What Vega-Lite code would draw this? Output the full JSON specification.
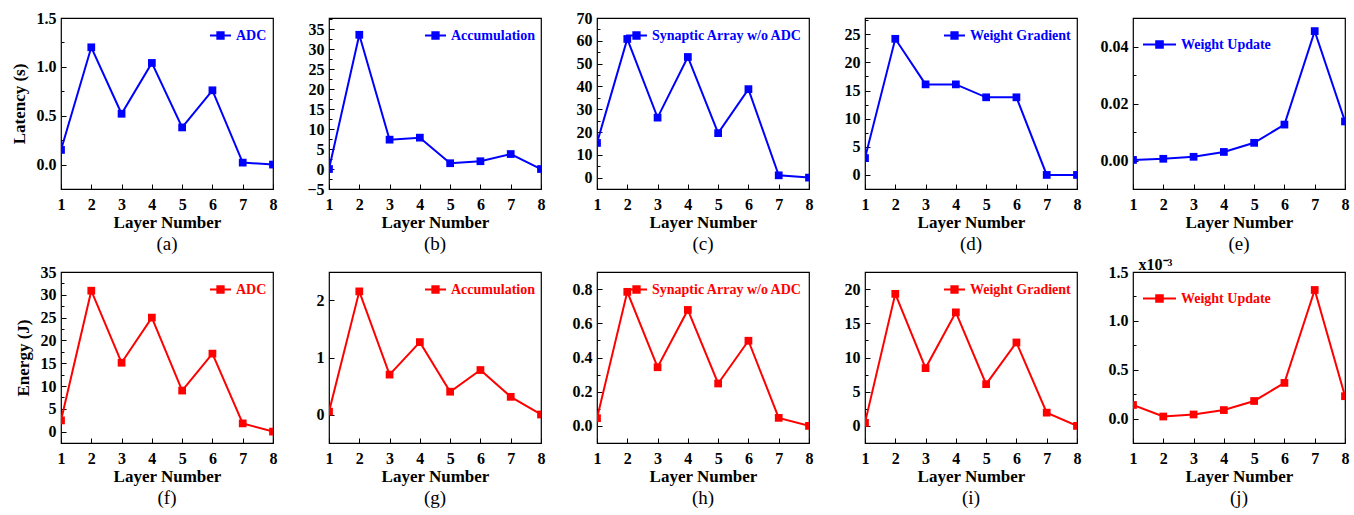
{
  "$schema": "https://vega.github.io/schema/vega-lite/v6.json",
  "background": "white",
  "padding": {"left": 9, "top": 9, "right": 0, "bottom": 0},
  "data": {"values": [
    {"panel": "a", "metric": "Latency", "component": "ADC", "layer": 1, "value": 0.15},
    {"panel": "a", "metric": "Latency", "component": "ADC", "layer": 2, "value": 1.2},
    {"panel": "a", "metric": "Latency", "component": "ADC", "layer": 3, "value": 0.52},
    {"panel": "a", "metric": "Latency", "component": "ADC", "layer": 4, "value": 1.04},
    {"panel": "a", "metric": "Latency", "component": "ADC", "layer": 5, "value": 0.38},
    {"panel": "a", "metric": "Latency", "component": "ADC", "layer": 6, "value": 0.76},
    {"panel": "a", "metric": "Latency", "component": "ADC", "layer": 7, "value": 0.02},
    {"panel": "a", "metric": "Latency", "component": "ADC", "layer": 8, "value": 0.0},
    {"panel": "b", "metric": "Latency", "component": "Accumulation", "layer": 1, "value": 0.0},
    {"panel": "b", "metric": "Latency", "component": "Accumulation", "layer": 2, "value": 33.6},
    {"panel": "b", "metric": "Latency", "component": "Accumulation", "layer": 3, "value": 7.35},
    {"panel": "b", "metric": "Latency", "component": "Accumulation", "layer": 4, "value": 7.85},
    {"panel": "b", "metric": "Latency", "component": "Accumulation", "layer": 5, "value": 1.45},
    {"panel": "b", "metric": "Latency", "component": "Accumulation", "layer": 6, "value": 1.95},
    {"panel": "b", "metric": "Latency", "component": "Accumulation", "layer": 7, "value": 3.75},
    {"panel": "b", "metric": "Latency", "component": "Accumulation", "layer": 8, "value": 0.0},
    {"panel": "c", "metric": "Latency", "component": "Synaptic Array w/o ADC", "layer": 1, "value": 15.2},
    {"panel": "c", "metric": "Latency", "component": "Synaptic Array w/o ADC", "layer": 2, "value": 60.8},
    {"panel": "c", "metric": "Latency", "component": "Synaptic Array w/o ADC", "layer": 3, "value": 26.3},
    {"panel": "c", "metric": "Latency", "component": "Synaptic Array w/o ADC", "layer": 4, "value": 52.9},
    {"panel": "c", "metric": "Latency", "component": "Synaptic Array w/o ADC", "layer": 5, "value": 19.5},
    {"panel": "c", "metric": "Latency", "component": "Synaptic Array w/o ADC", "layer": 6, "value": 38.8},
    {"panel": "c", "metric": "Latency", "component": "Synaptic Array w/o ADC", "layer": 7, "value": 1.0},
    {"panel": "c", "metric": "Latency", "component": "Synaptic Array w/o ADC", "layer": 8, "value": 0.0},
    {"panel": "d", "metric": "Latency", "component": "Weight Gradient", "layer": 1, "value": 3.0},
    {"panel": "d", "metric": "Latency", "component": "Weight Gradient", "layer": 2, "value": 24.2},
    {"panel": "d", "metric": "Latency", "component": "Weight Gradient", "layer": 3, "value": 16.1},
    {"panel": "d", "metric": "Latency", "component": "Weight Gradient", "layer": 4, "value": 16.1},
    {"panel": "d", "metric": "Latency", "component": "Weight Gradient", "layer": 5, "value": 13.8},
    {"panel": "d", "metric": "Latency", "component": "Weight Gradient", "layer": 6, "value": 13.8},
    {"panel": "d", "metric": "Latency", "component": "Weight Gradient", "layer": 7, "value": 0.0},
    {"panel": "d", "metric": "Latency", "component": "Weight Gradient", "layer": 8, "value": 0.0},
    {"panel": "e", "metric": "Latency", "component": "Weight Update", "layer": 1, "value": 0.0002},
    {"panel": "e", "metric": "Latency", "component": "Weight Update", "layer": 2, "value": 0.0006},
    {"panel": "e", "metric": "Latency", "component": "Weight Update", "layer": 3, "value": 0.0013},
    {"panel": "e", "metric": "Latency", "component": "Weight Update", "layer": 4, "value": 0.003},
    {"panel": "e", "metric": "Latency", "component": "Weight Update", "layer": 5, "value": 0.0062},
    {"panel": "e", "metric": "Latency", "component": "Weight Update", "layer": 6, "value": 0.0126},
    {"panel": "e", "metric": "Latency", "component": "Weight Update", "layer": 7, "value": 0.0454},
    {"panel": "e", "metric": "Latency", "component": "Weight Update", "layer": 8, "value": 0.0137},
    {"panel": "f", "metric": "Energy", "component": "ADC", "layer": 1, "value": 2.45},
    {"panel": "f", "metric": "Energy", "component": "ADC", "layer": 2, "value": 30.9},
    {"panel": "f", "metric": "Energy", "component": "ADC", "layer": 3, "value": 15.1},
    {"panel": "f", "metric": "Energy", "component": "ADC", "layer": 4, "value": 25.0},
    {"panel": "f", "metric": "Energy", "component": "ADC", "layer": 5, "value": 9.0},
    {"panel": "f", "metric": "Energy", "component": "ADC", "layer": 6, "value": 17.1},
    {"panel": "f", "metric": "Energy", "component": "ADC", "layer": 7, "value": 1.8},
    {"panel": "f", "metric": "Energy", "component": "ADC", "layer": 8, "value": 0.0},
    {"panel": "g", "metric": "Energy", "component": "Accumulation", "layer": 1, "value": 0.05},
    {"panel": "g", "metric": "Energy", "component": "Accumulation", "layer": 2, "value": 2.16},
    {"panel": "g", "metric": "Energy", "component": "Accumulation", "layer": 3, "value": 0.7},
    {"panel": "g", "metric": "Energy", "component": "Accumulation", "layer": 4, "value": 1.27},
    {"panel": "g", "metric": "Energy", "component": "Accumulation", "layer": 5, "value": 0.4},
    {"panel": "g", "metric": "Energy", "component": "Accumulation", "layer": 6, "value": 0.78},
    {"panel": "g", "metric": "Energy", "component": "Accumulation", "layer": 7, "value": 0.31},
    {"panel": "g", "metric": "Energy", "component": "Accumulation", "layer": 8, "value": 0.0},
    {"panel": "h", "metric": "Energy", "component": "Synaptic Array w/o ADC", "layer": 1, "value": 0.045},
    {"panel": "h", "metric": "Energy", "component": "Synaptic Array w/o ADC", "layer": 2, "value": 0.784},
    {"panel": "h", "metric": "Energy", "component": "Synaptic Array w/o ADC", "layer": 3, "value": 0.343},
    {"panel": "h", "metric": "Energy", "component": "Synaptic Array w/o ADC", "layer": 4, "value": 0.678},
    {"panel": "h", "metric": "Energy", "component": "Synaptic Array w/o ADC", "layer": 5, "value": 0.248},
    {"panel": "h", "metric": "Energy", "component": "Synaptic Array w/o ADC", "layer": 6, "value": 0.498},
    {"panel": "h", "metric": "Energy", "component": "Synaptic Array w/o ADC", "layer": 7, "value": 0.047},
    {"panel": "h", "metric": "Energy", "component": "Synaptic Array w/o ADC", "layer": 8, "value": 0.0},
    {"panel": "i", "metric": "Energy", "component": "Weight Gradient", "layer": 1, "value": 0.44},
    {"panel": "i", "metric": "Energy", "component": "Weight Gradient", "layer": 2, "value": 19.3},
    {"panel": "i", "metric": "Energy", "component": "Weight Gradient", "layer": 3, "value": 8.45},
    {"panel": "i", "metric": "Energy", "component": "Weight Gradient", "layer": 4, "value": 16.6},
    {"panel": "i", "metric": "Energy", "component": "Weight Gradient", "layer": 5, "value": 6.1},
    {"panel": "i", "metric": "Energy", "component": "Weight Gradient", "layer": 6, "value": 12.2},
    {"panel": "i", "metric": "Energy", "component": "Weight Gradient", "layer": 7, "value": 1.94},
    {"panel": "i", "metric": "Energy", "component": "Weight Gradient", "layer": 8, "value": 0.0},
    {"panel": "j", "metric": "Energy", "component": "Weight Update", "layer": 1, "value": 0.139},
    {"panel": "j", "metric": "Energy", "component": "Weight Update", "layer": 2, "value": 0.021},
    {"panel": "j", "metric": "Energy", "component": "Weight Update", "layer": 3, "value": 0.042},
    {"panel": "j", "metric": "Energy", "component": "Weight Update", "layer": 4, "value": 0.087},
    {"panel": "j", "metric": "Energy", "component": "Weight Update", "layer": 5, "value": 0.18},
    {"panel": "j", "metric": "Energy", "component": "Weight Update", "layer": 6, "value": 0.365},
    {"panel": "j", "metric": "Energy", "component": "Weight Update", "layer": 7, "value": 1.316},
    {"panel": "j", "metric": "Energy", "component": "Weight Update", "layer": 8, "value": 0.229}
  ]},
  "columns": 5,
  "spacing": {"row": 83, "column": 56},
  "bounds": "flush",
  "align": "all",
  "resolve": {"scale": {"x": "independent", "y": "independent", "color": "independent"}, "legend": {"color": "independent"}},
  "concat": [
    {
      "width": 212, "height": 171, "title": "(a)",
      "transform": [{"filter": "datum.panel === 'a'"}],
      "mark": {"type": "line", "clip": true, "strokeWidth": 2, "color": "#0000ff", "point": {"shape": "square", "filled": true, "size": 60, "clip": true}},
      "encoding": {
        "x": {"field": "layer", "type": "quantitative", "scale": {"domain": [1, 8], "nice": false, "zero": false},
              "axis": {"title": "Layer Number", "format": "d", "values": [1, 1.5, 2, 2.5, 3, 3.5, 4, 4.5, 5, 5.5, 6, 6.5, 7, 7.5, 8], "labelExpr": "datum.value % 1 === 0 ? datum.label : ''", "tickSize": {"condition": {"test": "datum.value % 1 === 0", "value": -5}, "value": -3}}},
        "y": {"field": "value", "type": "quantitative", "scale": {"domain": [-0.25, 1.5], "nice": false, "zero": false},
              "axis": {"title": "Latency (s)", "format": ".1f", "values": [0, 0.25, 0.5, 0.75, 1, 1.25, 1.5], "labelExpr": "abs(datum.value/0.5 - round(datum.value/0.5)) < 1e-6 ? datum.label : ''", "tickSize": {"condition": {"test": "abs(datum.value/0.5 - round(datum.value/0.5)) < 1e-6", "value": -5}, "value": -3}}},
        "color": {"field": "component", "type": "nominal", "scale": {"range": ["#0000ff"]},
                  "legend": {"title": null, "orient": "top-right", "symbolType": "M-1,0H1M-0.3,-0.3H0.3V0.3H-0.3Z", "symbolSize": 441, "labelColor": "#0000ff", "encode": {"symbols": {"update": {"fill": {"value": "#0000ff"}, "stroke": {"value": "#0000ff"}}}}}}
      }
    },
    {
      "width": 212, "height": 171, "title": "(b)",
      "transform": [{"filter": "datum.panel === 'b'"}],
      "mark": {"type": "line", "clip": true, "strokeWidth": 2, "color": "#0000ff", "point": {"shape": "square", "filled": true, "size": 60, "clip": true}},
      "encoding": {
        "x": {"field": "layer", "type": "quantitative", "scale": {"domain": [1, 8], "nice": false, "zero": false},
              "axis": {"title": "Layer Number", "format": "d", "values": [1, 1.5, 2, 2.5, 3, 3.5, 4, 4.5, 5, 5.5, 6, 6.5, 7, 7.5, 8], "labelExpr": "datum.value % 1 === 0 ? datum.label : ''", "tickSize": {"condition": {"test": "datum.value % 1 === 0", "value": -5}, "value": -3}}},
        "y": {"field": "value", "type": "quantitative", "scale": {"domain": [-5, 37.8], "nice": false, "zero": false},
              "axis": {"title": null, "format": "d", "values": [-5, -2.5, 0, 2.5, 5, 7.5, 10, 12.5, 15, 17.5, 20, 22.5, 25, 27.5, 30, 32.5, 35, 37.5], "labelExpr": "datum.value % 5 === 0 ? datum.label : ''", "tickSize": {"condition": {"test": "datum.value % 5 === 0", "value": -5}, "value": -3}}},
        "color": {"field": "component", "type": "nominal", "scale": {"range": ["#0000ff"]},
                  "legend": {"title": null, "orient": "top-right", "symbolType": "M-1,0H1M-0.3,-0.3H0.3V0.3H-0.3Z", "symbolSize": 441, "labelColor": "#0000ff", "encode": {"symbols": {"update": {"fill": {"value": "#0000ff"}, "stroke": {"value": "#0000ff"}}}}}}
      }
    },
    {
      "width": 212, "height": 171, "title": "(c)",
      "transform": [{"filter": "datum.panel === 'c'"}],
      "mark": {"type": "line", "clip": true, "strokeWidth": 2, "color": "#0000ff", "point": {"shape": "square", "filled": true, "size": 60, "clip": true}},
      "encoding": {
        "x": {"field": "layer", "type": "quantitative", "scale": {"domain": [1, 8], "nice": false, "zero": false},
              "axis": {"title": "Layer Number", "format": "d", "values": [1, 1.5, 2, 2.5, 3, 3.5, 4, 4.5, 5, 5.5, 6, 6.5, 7, 7.5, 8], "labelExpr": "datum.value % 1 === 0 ? datum.label : ''", "tickSize": {"condition": {"test": "datum.value % 1 === 0", "value": -5}, "value": -3}}},
        "y": {"field": "value", "type": "quantitative", "scale": {"domain": [-5, 70], "nice": false, "zero": false},
              "axis": {"title": null, "format": "d", "values": [0, 5, 10, 15, 20, 25, 30, 35, 40, 45, 50, 55, 60, 65, 70], "labelExpr": "datum.value % 10 === 0 ? datum.label : ''", "tickSize": {"condition": {"test": "datum.value % 10 === 0", "value": -5}, "value": -3}}},
        "color": {"field": "component", "type": "nominal", "scale": {"range": ["#0000ff"]},
                  "legend": {"title": null, "orient": "top-right", "symbolType": "M-1,0H1M-0.3,-0.3H0.3V0.3H-0.3Z", "symbolSize": 441, "labelColor": "#0000ff", "encode": {"symbols": {"update": {"fill": {"value": "#0000ff"}, "stroke": {"value": "#0000ff"}}}}}}
      }
    },
    {
      "width": 212, "height": 171, "title": "(d)",
      "transform": [{"filter": "datum.panel === 'd'"}],
      "mark": {"type": "line", "clip": true, "strokeWidth": 2, "color": "#0000ff", "point": {"shape": "square", "filled": true, "size": 60, "clip": true}},
      "encoding": {
        "x": {"field": "layer", "type": "quantitative", "scale": {"domain": [1, 8], "nice": false, "zero": false},
              "axis": {"title": "Layer Number", "format": "d", "values": [1, 1.5, 2, 2.5, 3, 3.5, 4, 4.5, 5, 5.5, 6, 6.5, 7, 7.5, 8], "labelExpr": "datum.value % 1 === 0 ? datum.label : ''", "tickSize": {"condition": {"test": "datum.value % 1 === 0", "value": -5}, "value": -3}}},
        "y": {"field": "value", "type": "quantitative", "scale": {"domain": [-2.5, 27.9], "nice": false, "zero": false},
              "axis": {"title": null, "format": "d", "values": [0, 2.5, 5, 7.5, 10, 12.5, 15, 17.5, 20, 22.5, 25, 27.5], "labelExpr": "datum.value % 5 === 0 ? datum.label : ''", "tickSize": {"condition": {"test": "datum.value % 5 === 0", "value": -5}, "value": -3}}},
        "color": {"field": "component", "type": "nominal", "scale": {"range": ["#0000ff"]},
                  "legend": {"title": null, "orient": "top-right", "symbolType": "M-1,0H1M-0.3,-0.3H0.3V0.3H-0.3Z", "symbolSize": 441, "labelColor": "#0000ff", "encode": {"symbols": {"update": {"fill": {"value": "#0000ff"}, "stroke": {"value": "#0000ff"}}}}}}
      }
    },
    {
      "width": 212, "height": 171, "title": "(e)",
      "transform": [{"filter": "datum.panel === 'e'"}],
      "mark": {"type": "line", "clip": true, "strokeWidth": 2, "color": "#0000ff", "point": {"shape": "square", "filled": true, "size": 60, "clip": true}},
      "encoding": {
        "x": {"field": "layer", "type": "quantitative", "scale": {"domain": [1, 8], "nice": false, "zero": false},
              "axis": {"title": "Layer Number", "format": "d", "values": [1, 1.5, 2, 2.5, 3, 3.5, 4, 4.5, 5, 5.5, 6, 6.5, 7, 7.5, 8], "labelExpr": "datum.value % 1 === 0 ? datum.label : ''", "tickSize": {"condition": {"test": "datum.value % 1 === 0", "value": -5}, "value": -3}}},
        "y": {"field": "value", "type": "quantitative", "scale": {"domain": [-0.01, 0.05], "nice": false, "zero": false},
              "axis": {"title": null, "format": ".2f", "values": [0, 0.01, 0.02, 0.03, 0.04], "labelExpr": "abs(datum.value/0.02 - round(datum.value/0.02)) < 1e-6 ? datum.label : ''", "tickSize": {"condition": {"test": "abs(datum.value/0.02 - round(datum.value/0.02)) < 1e-6", "value": -5}, "value": -3}}},
        "color": {"field": "component", "type": "nominal", "scale": {"range": ["#0000ff"]},
                  "legend": {"title": null, "orient": "top-left", "offset": 7, "symbolType": "M-1,0H1M-0.2,-0.2H0.2V0.2H-0.2Z", "symbolSize": 1089, "labelColor": "#0000ff", "encode": {"symbols": {"update": {"fill": {"value": "#0000ff"}, "stroke": {"value": "#0000ff"}}}}}}
      }
    },
    {
      "width": 212, "height": 171, "title": "(f)",
      "transform": [{"filter": "datum.panel === 'f'"}],
      "mark": {"type": "line", "clip": true, "strokeWidth": 2, "color": "#ff0000", "point": {"shape": "square", "filled": true, "size": 60, "clip": true}},
      "encoding": {
        "x": {"field": "layer", "type": "quantitative", "scale": {"domain": [1, 8], "nice": false, "zero": false},
              "axis": {"title": "Layer Number", "format": "d", "values": [1, 1.5, 2, 2.5, 3, 3.5, 4, 4.5, 5, 5.5, 6, 6.5, 7, 7.5, 8], "labelExpr": "datum.value % 1 === 0 ? datum.label : ''", "tickSize": {"condition": {"test": "datum.value % 1 === 0", "value": -5}, "value": -3}}},
        "y": {"field": "value", "type": "quantitative", "scale": {"domain": [-2.5, 35], "nice": false, "zero": false},
              "axis": {"title": "Energy (J)", "format": "d", "values": [0, 2.5, 5, 7.5, 10, 12.5, 15, 17.5, 20, 22.5, 25, 27.5, 30, 32.5, 35], "labelExpr": "datum.value % 5 === 0 ? datum.label : ''", "tickSize": {"condition": {"test": "datum.value % 5 === 0", "value": -5}, "value": -3}}},
        "color": {"field": "component", "type": "nominal", "scale": {"range": ["#ff0000"]},
                  "legend": {"title": null, "orient": "top-right", "symbolType": "M-1,0H1M-0.3,-0.3H0.3V0.3H-0.3Z", "symbolSize": 441, "labelColor": "#ff0000", "encode": {"symbols": {"update": {"fill": {"value": "#ff0000"}, "stroke": {"value": "#ff0000"}}}}}}
      }
    },
    {
      "width": 212, "height": 171, "title": "(g)",
      "transform": [{"filter": "datum.panel === 'g'"}],
      "mark": {"type": "line", "clip": true, "strokeWidth": 2, "color": "#ff0000", "point": {"shape": "square", "filled": true, "size": 60, "clip": true}},
      "encoding": {
        "x": {"field": "layer", "type": "quantitative", "scale": {"domain": [1, 8], "nice": false, "zero": false},
              "axis": {"title": "Layer Number", "format": "d", "values": [1, 1.5, 2, 2.5, 3, 3.5, 4, 4.5, 5, 5.5, 6, 6.5, 7, 7.5, 8], "labelExpr": "datum.value % 1 === 0 ? datum.label : ''", "tickSize": {"condition": {"test": "datum.value % 1 === 0", "value": -5}, "value": -3}}},
        "y": {"field": "value", "type": "quantitative", "scale": {"domain": [-0.5, 2.5], "nice": false, "zero": false},
              "axis": {"title": null, "format": "d", "values": [0, 0.5, 1, 1.5, 2], "labelExpr": "datum.value % 1 === 0 ? datum.label : ''", "tickSize": {"condition": {"test": "datum.value % 1 === 0", "value": -5}, "value": -3}}},
        "color": {"field": "component", "type": "nominal", "scale": {"range": ["#ff0000"]},
                  "legend": {"title": null, "orient": "top-right", "symbolType": "M-1,0H1M-0.3,-0.3H0.3V0.3H-0.3Z", "symbolSize": 441, "labelColor": "#ff0000", "encode": {"symbols": {"update": {"fill": {"value": "#ff0000"}, "stroke": {"value": "#ff0000"}}}}}}
      }
    },
    {
      "width": 212, "height": 171, "title": "(h)",
      "transform": [{"filter": "datum.panel === 'h'"}],
      "mark": {"type": "line", "clip": true, "strokeWidth": 2, "color": "#ff0000", "point": {"shape": "square", "filled": true, "size": 60, "clip": true}},
      "encoding": {
        "x": {"field": "layer", "type": "quantitative", "scale": {"domain": [1, 8], "nice": false, "zero": false},
              "axis": {"title": "Layer Number", "format": "d", "values": [1, 1.5, 2, 2.5, 3, 3.5, 4, 4.5, 5, 5.5, 6, 6.5, 7, 7.5, 8], "labelExpr": "datum.value % 1 === 0 ? datum.label : ''", "tickSize": {"condition": {"test": "datum.value % 1 === 0", "value": -5}, "value": -3}}},
        "y": {"field": "value", "type": "quantitative", "scale": {"domain": [-0.1, 0.9], "nice": false, "zero": false},
              "axis": {"title": null, "format": ".1f", "values": [0, 0.1, 0.2, 0.3, 0.4, 0.5, 0.6, 0.7, 0.8], "labelExpr": "abs(datum.value/0.2 - round(datum.value/0.2)) < 1e-6 ? datum.label : ''", "tickSize": {"condition": {"test": "abs(datum.value/0.2 - round(datum.value/0.2)) < 1e-6", "value": -5}, "value": -3}}},
        "color": {"field": "component", "type": "nominal", "scale": {"range": ["#ff0000"]},
                  "legend": {"title": null, "orient": "top-right", "symbolType": "M-1,0H1M-0.3,-0.3H0.3V0.3H-0.3Z", "symbolSize": 441, "labelColor": "#ff0000", "encode": {"symbols": {"update": {"fill": {"value": "#ff0000"}, "stroke": {"value": "#ff0000"}}}}}}
      }
    },
    {
      "width": 212, "height": 171, "title": "(i)",
      "transform": [{"filter": "datum.panel === 'i'"}],
      "mark": {"type": "line", "clip": true, "strokeWidth": 2, "color": "#ff0000", "point": {"shape": "square", "filled": true, "size": 60, "clip": true}},
      "encoding": {
        "x": {"field": "layer", "type": "quantitative", "scale": {"domain": [1, 8], "nice": false, "zero": false},
              "axis": {"title": "Layer Number", "format": "d", "values": [1, 1.5, 2, 2.5, 3, 3.5, 4, 4.5, 5, 5.5, 6, 6.5, 7, 7.5, 8], "labelExpr": "datum.value % 1 === 0 ? datum.label : ''", "tickSize": {"condition": {"test": "datum.value % 1 === 0", "value": -5}, "value": -3}}},
        "y": {"field": "value", "type": "quantitative", "scale": {"domain": [-2.5, 22.5], "nice": false, "zero": false},
              "axis": {"title": null, "format": "d", "values": [0, 2.5, 5, 7.5, 10, 12.5, 15, 17.5, 20], "labelExpr": "datum.value % 5 === 0 ? datum.label : ''", "tickSize": {"condition": {"test": "datum.value % 5 === 0", "value": -5}, "value": -3}}},
        "color": {"field": "component", "type": "nominal", "scale": {"range": ["#ff0000"]},
                  "legend": {"title": null, "orient": "top-right", "symbolType": "M-1,0H1M-0.3,-0.3H0.3V0.3H-0.3Z", "symbolSize": 441, "labelColor": "#ff0000", "encode": {"symbols": {"update": {"fill": {"value": "#ff0000"}, "stroke": {"value": "#ff0000"}}}}}}
      }
    },
    {
      "width": 212, "height": 171, "title": "(j)",
      "transform": [{"filter": "datum.panel === 'j'"}],
      "mark": {"type": "line", "clip": true, "strokeWidth": 2, "color": "#ff0000", "point": {"shape": "square", "filled": true, "size": 60, "clip": true}},
      "encoding": {
        "x": {"field": "layer", "type": "quantitative", "scale": {"domain": [1, 8], "nice": false, "zero": false},
              "axis": {"title": "Layer Number", "format": "d", "values": [1, 1.5, 2, 2.5, 3, 3.5, 4, 4.5, 5, 5.5, 6, 6.5, 7, 7.5, 8], "labelExpr": "datum.value % 1 === 0 ? datum.label : ''", "tickSize": {"condition": {"test": "datum.value % 1 === 0", "value": -5}, "value": -3}}},
        "y": {"field": "value", "type": "quantitative", "scale": {"domain": [-0.25, 1.5], "nice": false, "zero": false},
              "axis": {"title": "x10⁻³", "titleAngle": 0, "titleX": 5, "titleY": -3, "titleAlign": "left", "titleBaseline": "alphabetic", "titleFontSize": 16, "format": ".1f", "values": [0, 0.25, 0.5, 0.75, 1, 1.25, 1.5], "labelExpr": "abs(datum.value/0.5 - round(datum.value/0.5)) < 1e-6 ? datum.label : ''", "tickSize": {"condition": {"test": "abs(datum.value/0.5 - round(datum.value/0.5)) < 1e-6", "value": -5}, "value": -3}}},
        "color": {"field": "component", "type": "nominal", "scale": {"range": ["#ff0000"]},
                  "legend": {"title": null, "orient": "top-left", "offset": 7, "symbolType": "M-1,0H1M-0.2,-0.2H0.2V0.2H-0.2Z", "symbolSize": 1089, "labelColor": "#ff0000", "encode": {"symbols": {"update": {"fill": {"value": "#ff0000"}, "stroke": {"value": "#ff0000"}}}}}}
      }
    }
  ],
  "config": {
    "view": {"stroke": "#000000", "strokeWidth": 1.2},
    "font": "Liberation Serif",
    "axis": {"grid": false, "domain": false, "labelFont": "Liberation Serif", "labelFontSize": 16, "labelFontWeight": "bold", "labelColor": "#000000", "titleFont": "Liberation Serif", "titleFontSize": 17, "titleFontWeight": "bold", "titleColor": "#000000", "tickColor": "#000000", "tickWidth": 1, "labelOverlap": false, "labelFlush": false},
    "axisX": {"labelPadding": 12, "titlePadding": 2},
    "axisY": {"labelPadding": 10, "titlePadding": 8},
    "legend": {"offset": 4, "padding": 2, "labelFont": "Liberation Serif", "labelFontSize": 14, "labelFontWeight": "bold", "symbolStrokeWidth": 2, "labelOffset": 4},
    "title": {"font": "Liberation Serif", "fontSize": 19, "fontWeight": "normal", "orient": "bottom", "offset": 5, "anchor": "middle", "color": "#000000"}
  }
}
